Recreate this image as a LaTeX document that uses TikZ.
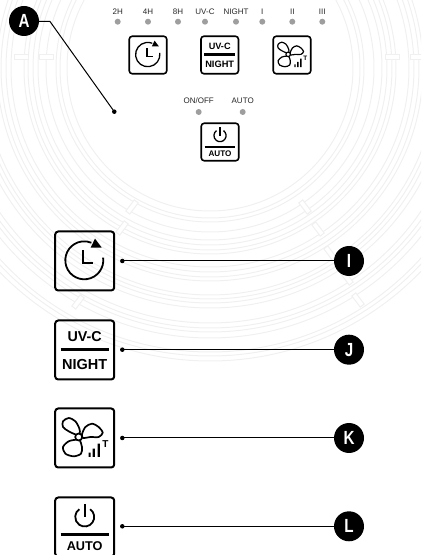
\documentclass[tikz,border=0pt]{standalone}
\usepackage{fontspec}
\setmainfont{Liberation Sans}
\newfontfamily\markfont[FakeStretch=.8]{Liberation Sans}
\definecolor{ringgray}{gray}{.94}
\definecolor{lampgray}{gray}{.62}
\tikzset{
	panelbtn/.style={draw,rounded corners=3pt,inner sep=0pt},
	bigbtn/.style={panelbtn,minimum size=59pt,line width=2pt},
	smallbtn/.style={panelbtn,minimum size=37.5pt,line width=1.6pt},
	lamp/.style={circle,fill=lampgray,inner sep=0pt,minimum size=6pt},
	lamptext/.style={inner sep=0pt,font=\fontsize{8}{8}\selectfont,text=black!85},
	marker/.style={circle,fill=black,text=white,inner sep=0pt,minimum size=30pt,font=\markfont\bfseries\fontsize{19}{19}\selectfont},
	enddot/.style={circle,fill=black,inner sep=0pt,minimum size=4.5pt},
	leader/.style={line width=1pt},
	btnbar/.style={line width=2.4pt},
	tick/.style={draw=ringgray,fill=white,line width=1pt,minimum width=14pt,minimum height=5pt,inner sep=0pt},
	pics/timer/.style={code={
		\draw (-.4,.7) ++(8:19) arc (8:-292:19);
		\fill (10.3,22.4)--(17,13.4)--(6,13.4)--cycle;
		\draw (-1.4,10.7)--(-1.4,-2)--(8,-2);
	}},
	pics/uvnight/.style={code={
		\draw[btnbar] (-24,.6)--(24,.6);
		\node[transform shape,inner sep=0pt,font=\fontsize{14.3}{14.3}\selectfont\bfseries] (-uv) at (0,13.3) {UV-C};
		\node[transform shape,inner sep=0pt,font=\fontsize{14.5}{14.5}\selectfont\bfseries] (-night) at (0,-14.3) {NIGHT};
	}},
	pics/fan/.style={code={
		\draw plot[smooth cycle] coordinates {(-8.3,3.3)(-16,6.7)(-21.7,11)(-21.7,16.7)(-16,20)(-9.3,16.7)(-5.3,9.3)(-5,4.3)};
		\draw plot[smooth cycle] coordinates {(-2.7,3.7)(.7,11)(7.3,14.3)(14,11)(18,5.3)(14,1)(5.7,1)(-1.7,0)};
		\draw plot[smooth cycle] coordinates {(-8.3,-1.7)(-16,-3.3)(-21.7,-9)(-19.3,-15.7)(-11,-18.3)(-3.7,-15.7)(-2.7,-9)(-5,-2.3)};
		\draw[fill=white] (-6,1) circle (3.5);
		\fill (3.8,-19) rectangle (5.8,-14.7) (8,-19) rectangle (10.2,-10.7) (12.8,-19) rectangle (15.2,-5.7);
		\node[transform shape,inner sep=0pt,font=\fontsize{10}{10}\selectfont\bfseries] (-t) at (20.7,-5.7) {T};
	}},
	pics/powerauto/.style={code={
		\draw (0,10) ++(55:9.5) arc (55:-235:9.5);
		\draw (0,23)--(0,10);
		\draw[btnbar] (-24,-7.5)--(24,-7.5);
		\node[transform shape,inner sep=0pt,font=\fontsize{12.7}{12.7}\selectfont\bfseries] (-auto) at (0,-19) {AUTO};
	}},
}
\begin{document}
\begin{tikzpicture}[x=1pt,y=1pt]
	\useasboundingbox (0,0) rectangle (421,555);
	\clip (0,0) rectangle (421,555);
	\foreach \r in {143,150,154,164,172,177,182,186,199,204,209,213,227,231,235,240,255,260,264,270,284,288,293}
		\draw[ringgray,line width=1pt] (210,487) circle (\r);
	\foreach \tx/\ty/\ta in {132/348/53,122/327/53,78/253/53,305/348/-53,318/326/-53,330/302/-53,347/277/-53,358/255/-53,21/498/0,46/498/0,392/498/0,417/498/0}
		\node[tick,rotate=\ta] at (\tx,\ty) {};

	\foreach \px/\txt [count=\i] in {117.7/2H,148/4H,178/8H,205/UV-C,236/NIGHT,262.3/I,292.3/II,322.3/III}{
		\node[lamp] (lamp\i) at (\px,533.3) {};
		\node[lamptext] (lamptext\i) at (\px,543.3) {\txt};
	}
	\node[lamp] (lampon) at (198.7,443) {};
	\node[lamptext] (lamptexton) at (198.7,454) {ON/OFF};
	\node[lamp] (lampauto) at (242.7,443) {};
	\node[lamptext] (lamptextauto) at (242.7,454) {AUTO};

	\node[smallbtn] (btnTimerS) at (148,500) {};
	\node[smallbtn] (btnUvS) at (219.7,500) {};
	\node[smallbtn] (btnFanS) at (292,500) {};
	\node[smallbtn] (btnPowerS) at (220,413) {};
	\pic[scale=.64,line width=1.3pt] (timerS) at (btnTimerS) {timer};
	\pic[scale=.64,line width=1.3pt] (uvS) at (btnUvS) {uvnight};
	\pic[scale=.64,line width=1.2pt] (fanS) at (btnFanS) {fan};
	\pic[scale=.64,line width=1.3pt] (powerS) at (btnPowerS) {powerauto};

	\node[bigbtn] (btnTimer) at (84.7,294) {};
	\node[bigbtn] (btnUv) at (84.7,205) {};
	\node[bigbtn] (btnFan) at (84.7,117) {};
	\node[bigbtn] (btnPower) at (84.7,28) {};
	\pic[line width=1.8pt] (timer) at (btnTimer) {timer};
	\pic[line width=1.8pt] (uv) at (btnUv) {uvnight};
	\pic[line width=1.7pt] (fan) at (btnFan) {fan};
	\pic[line width=1.8pt] (power) at (btnPower) {powerauto};

	\node[marker] (markA) at (24,534) {A};
	\node[enddot] (dotA) at (114.3,443.3) {};
	\coordinate (bendA) at (50,533.5);
	\draw[leader] (markA) -- (bendA) -- (dotA.center);
	\foreach \m/\y in {I/294,J/205.3,K/117,L/28.7}{
		\node[marker] (mark\m) at (349,\y) {\m};
		\node[enddot] (dot\m) at (122.3,\y) {};
		\draw[leader] (dot\m.center) -- (mark\m);
	}
\end{tikzpicture}
\end{document}
